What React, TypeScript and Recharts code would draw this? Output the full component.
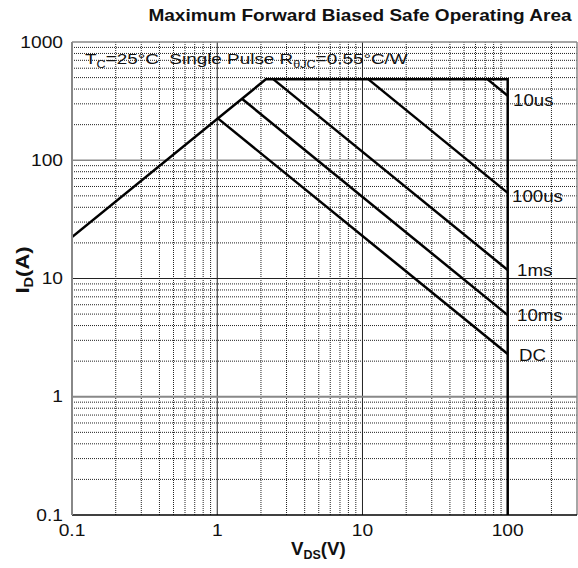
import React from 'react';
import { LineChart, Line, XAxis, YAxis, ReferenceLine } from 'recharts';

// SOA boundary lines, V_DS (V) vs I_D (A)
const limitLine = [
  { v: 0.1, i: 22.4 },
  { v: 2.16, i: 483 },
  { v: 100, i: 483 },
  { v: 100, i: 0.1 },
];
const dcLine = [
  { v: 1.01, i: 226 },
  { v: 100, i: 2.3 },
];
const ms10Line = [
  { v: 1.48, i: 331 },
  { v: 100, i: 4.9 },
];
const ms1Line = [
  { v: 2.44, i: 483 },
  { v: 100, i: 11.8 },
];
const us100Line = [
  { v: 11.0, i: 483 },
  { v: 100, i: 53 },
];
const us10Line = [
  { v: 72.7, i: 483 },
  { v: 100, i: 351 },
];

const xTicks = [0.1, 1, 10, 100];
const yTicks = [0.1, 1, 10, 100, 1000];
const xMinor = [0.2, 0.3, 0.4, 0.5, 0.6, 0.7, 0.8, 0.9, 2, 3, 4, 5, 6, 7, 8, 9, 20, 30, 40, 50, 60, 70, 80, 90, 200];
const yMinor = [
  0.2, 0.3, 0.4, 0.5, 0.6, 0.7, 0.8, 0.9, 2, 3, 4, 5, 6, 7, 8, 9, 20, 30, 40, 50, 60, 70, 80, 90, 200, 300, 400,
  500, 600, 700, 800, 900,
];

const curveLabels = [
  { text: '10us', x: 513, y: 100 },
  { text: '100us', x: 512, y: 196 },
  { text: '1ms', x: 517, y: 270 },
  { text: '10ms', x: 517, y: 315 },
  { text: 'DC', x: 519, y: 355 },
];

const FONT = '"Liberation Sans", Arial, sans-serif';
const STRETCH = 1.2;

const XTick = ({ x, y, payload }: any) => (
  <g transform={`translate(${x},${y}) scale(${STRETCH},1)`}>
    <text textAnchor="middle" dy="0.71em" fontSize={16} fontFamily={FONT} fill="#111">
      {payload.value}
    </text>
  </g>
);

const YTick = ({ x, y, payload }: any) => (
  <g transform={`translate(${x},${y}) scale(${STRETCH},1)`}>
    <text textAnchor="end" dy="0.355em" fontSize={16} fontFamily={FONT} fill="#111">
      {payload.value}
    </text>
  </g>
);

const lineProps = {
  dataKey: 'i',
  type: 'linear' as const,
  stroke: '#000',
  strokeWidth: 2.5,
  dot: false,
  isAnimationActive: false,
};

export default function App() {
  return (
    <div style={{ position: 'absolute', left: 0, top: 0, width: 578, height: 568, background: '#fff' }}>
      <LineChart width={578} height={568} margin={{ top: 42, right: 1, bottom: 23, left: 10 }}>
        <XAxis
          dataKey="v"
          type="number"
          scale="log"
          domain={[0.1, 300]}
          allowDataOverflow
          ticks={xTicks}
          tick={<XTick />}
          tickLine={false}
          tickSize={1}
          tickMargin={9}
          height={30}
          axisLine={{ stroke: '#000', strokeWidth: 1.5 }}
        />
        <YAxis
          type="number"
          scale="log"
          domain={[0.1, 1000]}
          allowDataOverflow
          ticks={yTicks}
          tick={<YTick />}
          tickLine={false}
          tickSize={6}
          tickMargin={3}
          width={62}
          axisLine={{ stroke: '#888', strokeWidth: 2 }}
        />
        {xMinor.map((v) => (
          <ReferenceLine key={'xm' + v} x={v} stroke="#222" strokeWidth={1} strokeDasharray="1 1" />
        ))}
        {yMinor.map((v) => (
          <ReferenceLine key={'ym' + v} y={v} stroke="#222" strokeWidth={1} strokeDasharray="1 1" />
        ))}
        <ReferenceLine x={1} stroke="#222" strokeWidth={1} />
        <ReferenceLine x={10} stroke="#222" strokeWidth={1} />
        <ReferenceLine y={1} stroke="#888" strokeWidth={2} />
        <ReferenceLine y={10} stroke="#222" strokeWidth={1} />
        <ReferenceLine y={100} stroke="#888" strokeWidth={1.5} />
        <ReferenceLine y={1000} stroke="#888" strokeWidth={1.5} />
        <ReferenceLine x={300} stroke="#888" strokeWidth={1.5} />
        <Line data={limitLine} {...lineProps} />
        <Line data={dcLine} {...lineProps} />
        <Line data={ms10Line} {...lineProps} />
        <Line data={ms1Line} {...lineProps} />
        <Line data={us100Line} {...lineProps} />
        <Line data={us10Line} {...lineProps} />
      </LineChart>
      <svg
        width={578}
        height={568}
        style={{ position: 'absolute', left: 0, top: 0, pointerEvents: 'none' }}
        fontFamily={FONT}
        fill="#111"
      >
        <text
          transform="translate(360,21) scale(1.12,1)"
          textAnchor="middle"
          fontSize={17}
          fontWeight="bold"
        >
          Maximum Forward Biased Safe Operating Area
        </text>
        <text transform="translate(85,64) scale(1.26,1)" fontSize={15}>
          T<tspan fontSize={10} dy={4}>C</tspan>
          <tspan dy={-4}>{'=25°C\u00A0\u00A0Single Pulse R'}</tspan>
          <tspan fontSize={10} dy={4}>θJC</tspan>
          <tspan dy={-4}>=0.55°C/W</tspan>
        </text>
        {curveLabels.map((l) => (
          <text key={l.text} transform={`translate(${l.x},${l.y}) scale(1.1,1)`} dy="0.355em" fontSize={17}>
            {l.text}
          </text>
        ))}
        <text transform="translate(291,555) scale(1.04,1)" fontSize={18} fontWeight="bold">
          V<tspan fontSize={12} dy={4}>DS</tspan>
          <tspan dy={-4}>(V)</tspan>
        </text>
        <text
          transform="translate(29,270) rotate(-90) scale(1.22,1)"
          textAnchor="middle"
          fontSize={18}
          fontWeight="bold"
        >
          I<tspan fontSize={12} dy={4}>D</tspan>
          <tspan dy={-4}>(A)</tspan>
        </text>
      </svg>
    </div>
  );
}
